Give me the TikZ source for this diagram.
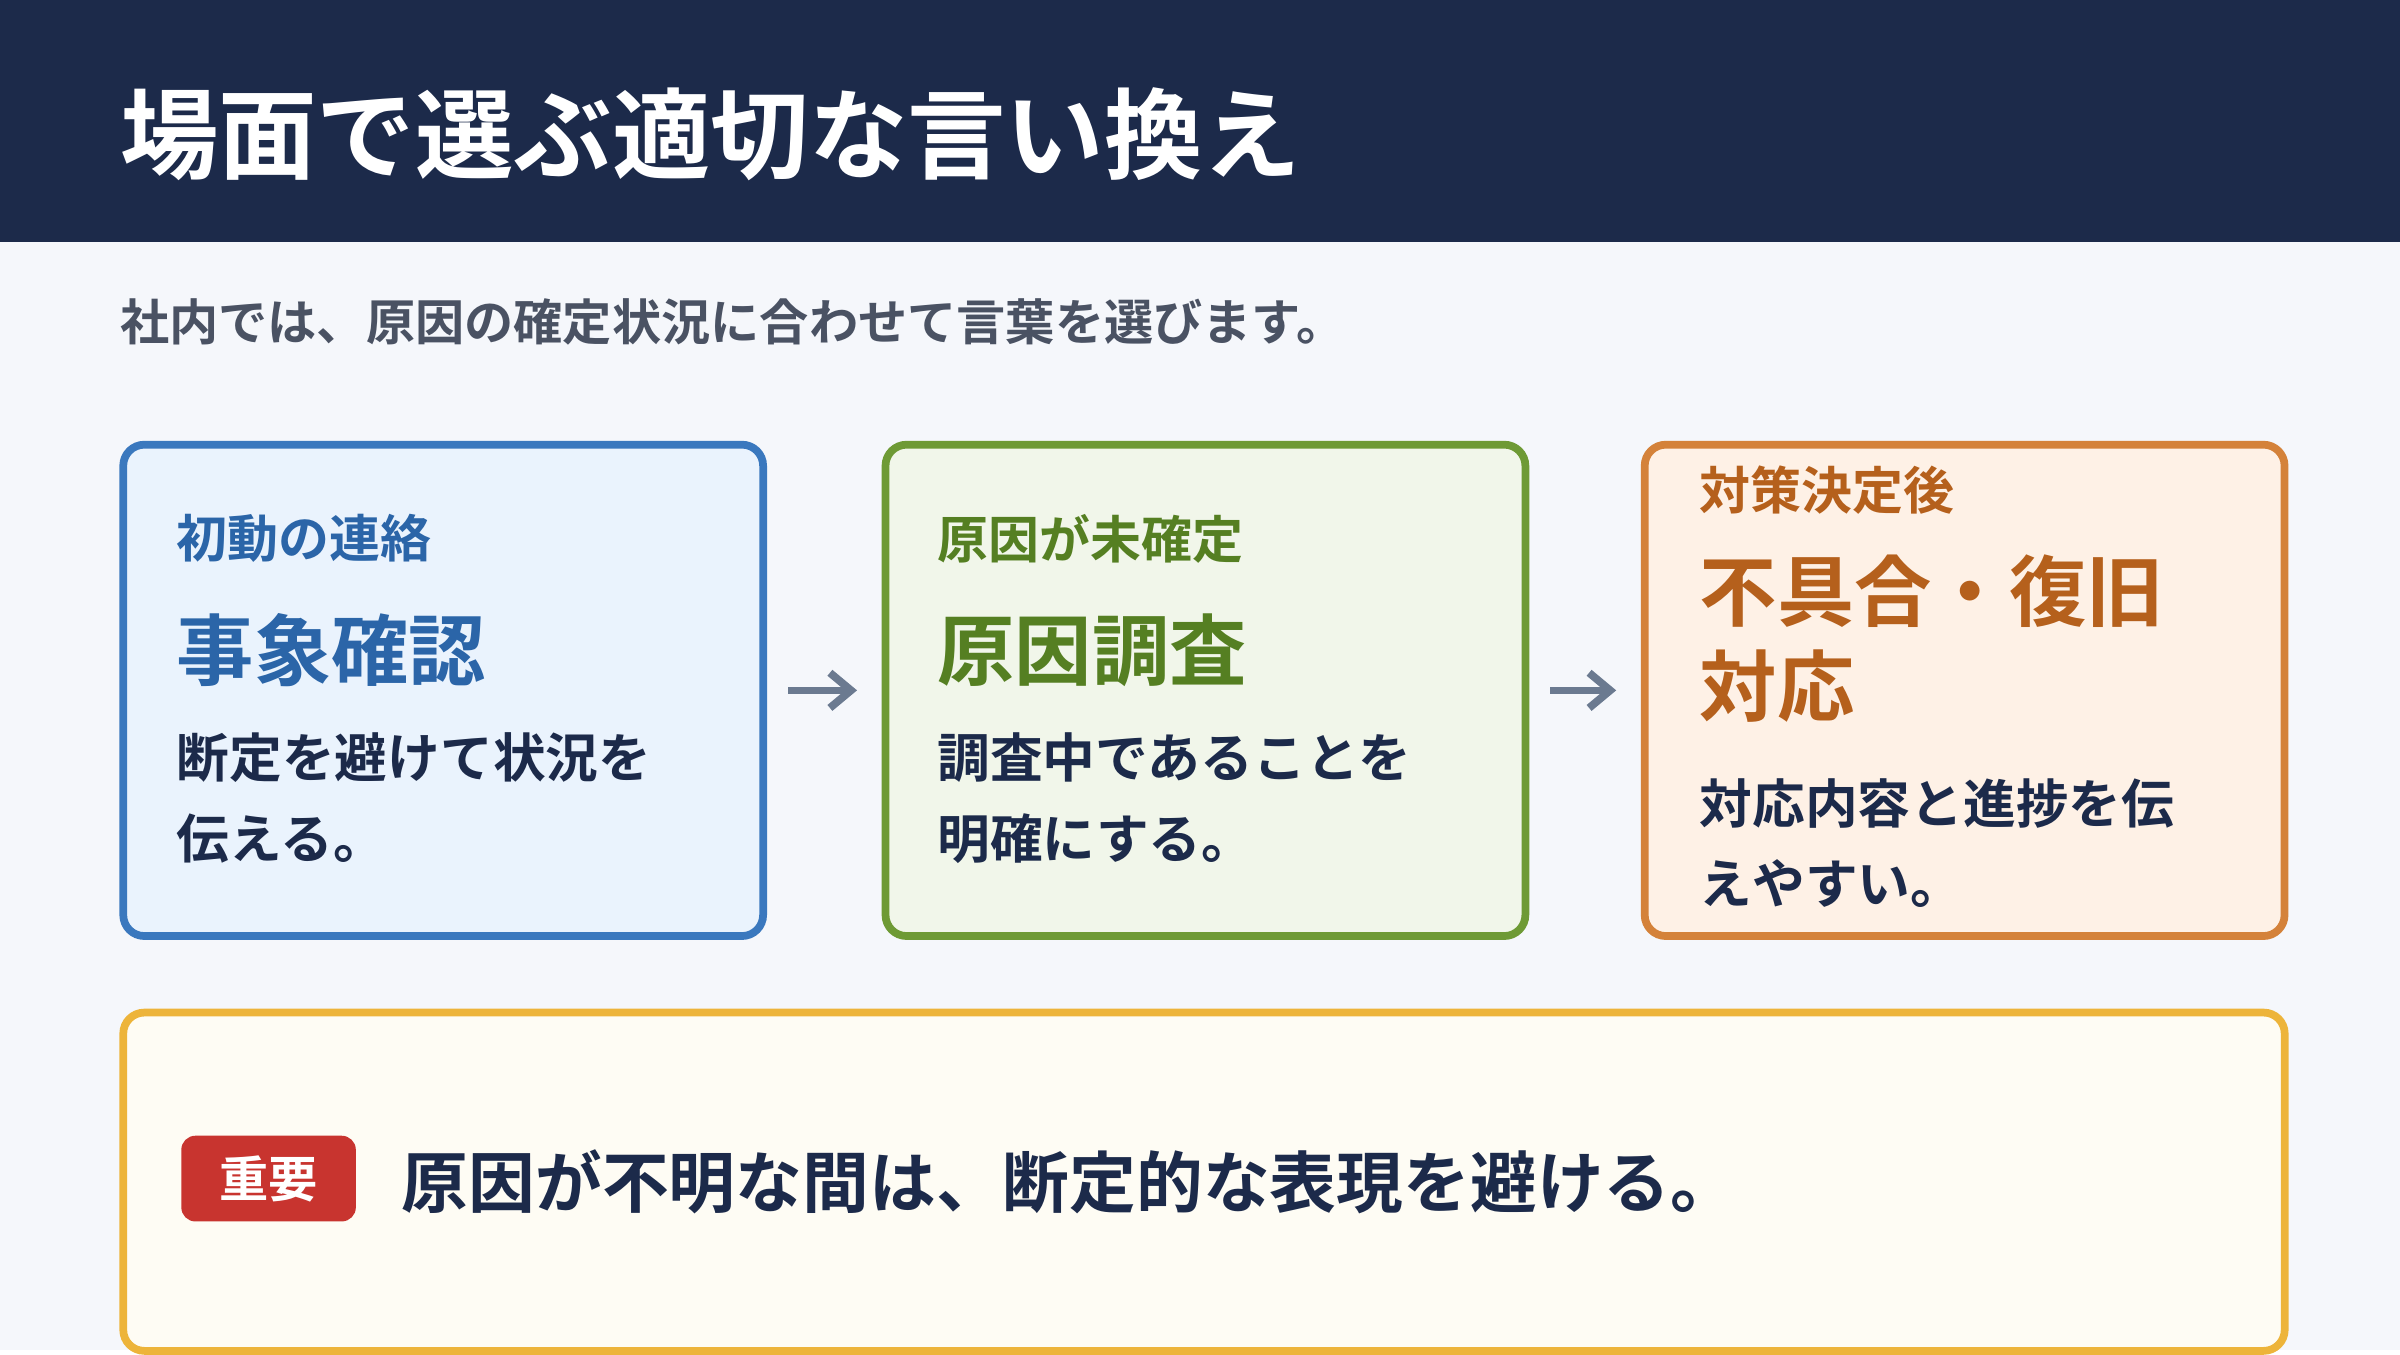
\documentclass[tikz,border=0pt]{standalone}
\usepackage{fontspec}
\setmainfont{Noto Sans CJK JP}[BoldFont={* Bold}]
\usetikzlibrary{positioning,arrows.meta}
\definecolor{navy}{HTML}{1C2A4A}
\definecolor{bg}{HTML}{F5F7FB}
\definecolor{subgray}{HTML}{4A5263}
\definecolor{blueline}{HTML}{3A78BE}
\definecolor{bluefill}{HTML}{EAF3FD}
\definecolor{bluetext}{HTML}{2B65A8}
\definecolor{greenline}{HTML}{6E9A35}
\definecolor{greenfill}{HTML}{F1F6EA}
\definecolor{greentext}{HTML}{557F22}
\definecolor{orangeline}{HTML}{D4823A}
\definecolor{orangefill}{HTML}{FEF1E6}
\definecolor{orangetext}{HTML}{B5601C}
\definecolor{goldline}{HTML}{EDB43A}
\definecolor{goldfill}{HTML}{FEFCF4}
\definecolor{badgered}{HTML}{C8342F}
\definecolor{arrowgray}{HTML}{6B7A90}
\tikzset{
  card/.style={draw, line width=2.2pt, rounded corners=6pt, minimum width=6.398cm, minimum height=4.913cm, anchor=north west, inner sep=0},
  small/.style={anchor=west, font=\bfseries\fontsize{14.5}{17}\selectfont, inner sep=0},
  big/.style={anchor=west, font=\bfseries\fontsize{22}{27}\selectfont, inner sep=0, align=left},
  body/.style={anchor=north west, font=\bfseries\fontsize{15}{23}\selectfont, text=navy, inner sep=0, align=left},
  flow/.style={-{Straight Barb[length=6pt,width=10pt]}, line width=2.2pt, draw=arrowgray, shorten <=6pt, shorten >=7pt}
}
\begin{document}
\begin{tikzpicture}[x=0.015306cm, y=-0.015306cm]
  \fill[bg] (0,0) rectangle (1568,882);
  \fill[navy] (0,0) rectangle (1568,158);
  \node[anchor=west, text=white, font=\bfseries\fontsize{28}{32}\selectfont, inner sep=0] (title) at (78,88) {場面で選ぶ適切な言い換え};
  \node[anchor=west, text=subgray, font=\bfseries\fontsize{14}{17}\selectfont, inner sep=0] (sub) at (78,210) {社内では、原因の確定状況に合わせて言葉を選びます。};

  % カード
  \node[card, draw=blueline, fill=bluefill] (first) at (78,288) {};
  \node[card, draw=greenline, fill=greenfill] (cause) at (576,288) {};
  \node[card, draw=orangeline, fill=orangefill] (fix) at (1072,288) {};

  \node[small, text=bluetext] (firstlab) at (115,352) {初動の連絡};
  \node[big, text=bluetext] (firstbig) at (115,425) {事象確認};
  \node[body] (firstbody) at (115,478) {断定を避けて状況を\\伝える。};

  \node[small, text=greentext] (causelab) at (612,352) {原因が未確定};
  \node[big, text=greentext] (causebig) at (612,425) {原因調査};
  \node[body] (causebody) at (612,478) {調査中であることを\\明確にする。};

  \node[small, text=orangetext] (fixlab) at (1110,320) {対策決定後};
  \node[big, text=orangetext, anchor=north west] (fixbig) at (1110,362) {不具合・復旧\\対応};
  \node[body] (fixbody) at (1110,508) {対応内容と進捗を伝\\えやすい。};

  \draw[flow] (first.east) -- (cause.west);
  \draw[flow] (cause.east) -- (fix.west);

  % 注意
  \node[draw=goldline, fill=goldfill, line width=2.2pt, rounded corners=6pt, minimum width=21.612cm, minimum height=3.383cm, anchor=north west, inner sep=0] (note) at (78,659) {};
  \node[fill=badgered, rounded corners=4pt, minimum width=1.745cm, minimum height=0.857cm, inner sep=0, text=white, font=\bfseries\fontsize{14}{17}\selectfont, anchor=west] (badge) at (118,770) {重要};
  \node[anchor=west, text=navy, font=\bfseries\fontsize{19}{23}\selectfont, inner sep=0] (notetext) at (262,772) {原因が不明な間は、断定的な表現を避ける。};
\end{tikzpicture}
\end{document}
